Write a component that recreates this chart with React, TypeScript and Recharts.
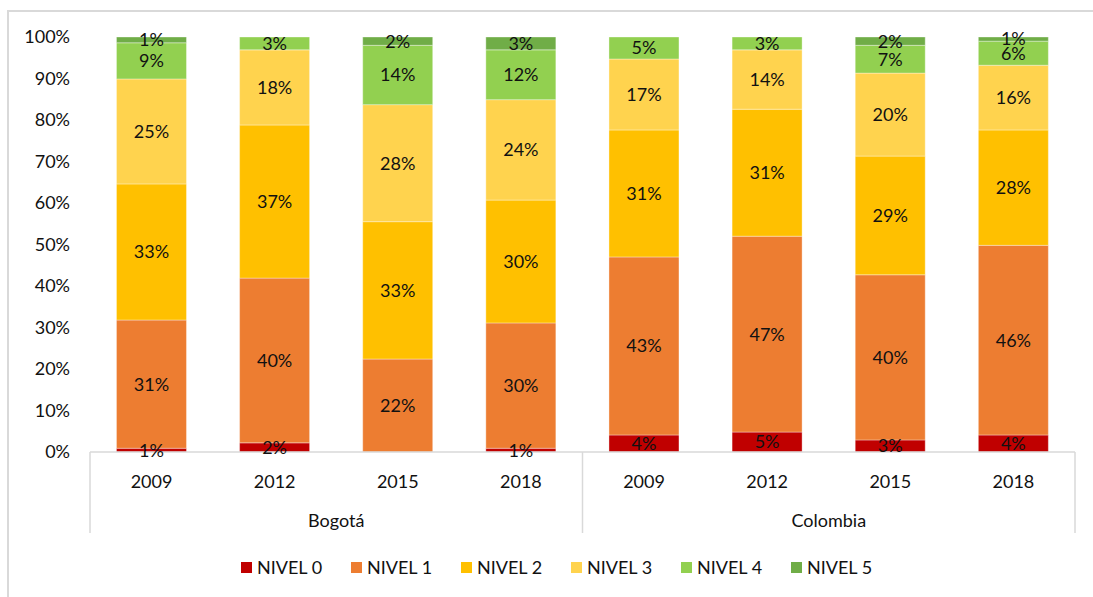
import React from 'react';
import { BarChart, Bar, XAxis, YAxis, Legend, LabelList } from 'recharts';

const years = ['2009', '2012', '2015', '2018', '2009', '2012', '2015', '2018'];
const groups = ['Bogotá', 'Bogotá', 'Bogotá', 'Bogotá', 'Colombia', 'Colombia', 'Colombia', 'Colombia'];

const nivel0 = [0.9, 2.2, 0, 0.9, 4.1, 4.8, 2.9, 4.1];
const nivel1 = [30.9, 39.7, 22.4, 30.2, 42.9, 47.2, 39.8, 45.7];
const nivel2 = [32.8, 36.9, 33.1, 29.6, 30.6, 30.6, 28.6, 27.8];
const nivel3 = [25.3, 18.1, 28.2, 24.2, 17.1, 14.3, 20.0, 15.6];
const nivel4 = [8.7, 3.1, 14.3, 12.0, 5.3, 3.1, 6.7, 5.8];
const nivel5 = [1.4, 0, 2.0, 3.1, 0, 0, 2.0, 1.0];

const yTicks = [0, 10, 20, 30, 40, 50, 60, 70, 80, 90, 100];

const series = [
  { key: 'n0', name: 'NIVEL 0', values: nivel0, color: '#C00000' },
  { key: 'n1', name: 'NIVEL 1', values: nivel1, color: '#ED7D31' },
  { key: 'n2', name: 'NIVEL 2', values: nivel2, color: '#FFC000' },
  { key: 'n3', name: 'NIVEL 3', values: nivel3, color: '#FFD34E' },
  { key: 'n4', name: 'NIVEL 4', values: nivel4, color: '#92D050' },
  { key: 'n5', name: 'NIVEL 5', values: nivel5, color: '#70AD47' },
];

const data = years.map((year, i) => {
  const row: Record<string, string | number> = { id: `${groups[i]}-${year}`, year, group: groups[i] };
  series.forEach((s) => {
    row[s.key] = s.values[i];
  });
  return row;
});

const FONT = 'Lato, "Open Sans", sans-serif';
const TEXT = '#111';
const LINE = '#d9d9d9';
const FS = 18;

const W = 1093;
const H = 597;
const M = { top: 37, right: 18, left: 10, bottom: 15 };
const Y_W = 80;
const BAND_HALF = (W - M.left - M.right - Y_W) / years.length / 2;

const YearTick = (props: any) => {
  const { x, y, index, payload } = props;
  const half = payload && payload.offset ? payload.offset : BAND_HALF;
  const label = years[index];
  return (
    <g>
      <text x={x} y={y + 29} textAnchor="middle" dominantBaseline="central" fontSize={FS} fill={TEXT} fontFamily={FONT}>
        {label}
      </text>
      {index % 4 === 0 && <line x1={x - half} x2={x - half} y1={y} y2={y + 81} stroke={LINE} strokeWidth={1.5} />}
      {index === years.length - 1 && <line x1={x + half} x2={x + half} y1={y} y2={y + 81} stroke={LINE} strokeWidth={1.5} />}
      {index % 4 === 1 && (
        <text x={x + half} y={y + 68} textAnchor="middle" dominantBaseline="central" fontSize={FS} fill={TEXT} fontFamily={FONT}>
          {groups[index]}
        </text>
      )}
    </g>
  );
};

const LegendContent = () => (
  <div style={{ display: 'flex', paddingLeft: 231, height: 30, alignItems: 'center', fontFamily: FONT, fontSize: FS, color: TEXT }}>
    {series.map((s) => (
      <div key={s.key} style={{ display: 'flex', alignItems: 'center', width: 110 }}>
        <span style={{ display: 'inline-block', width: 11, height: 11, background: s.color, marginRight: 5 }} />
        <span>{s.name}</span>
      </div>
    ))}
  </div>
);

const fmt = (v: any) => (v && v > 0 ? `${Math.round(v)}%` : '');

export default function App() {
  return (
    <div style={{ position: 'absolute', left: 0, top: 0, width: W, height: H, background: '#fff', overflow: 'hidden' }}>
      <div style={{ position: 'absolute', left: 7, top: 10, width: W, height: H, border: `2px solid ${LINE}`, boxSizing: 'border-box' }} />
      <div style={{ position: 'absolute', left: 0, top: 0 }}>
        <BarChart width={W} height={H} data={data} margin={M} barCategoryGap="21.5%">
          <XAxis
            dataKey="id"
            axisLine={{ stroke: LINE, strokeWidth: 1.5 }}
            tickLine={false}
            tickSize={0}
            tickMargin={0}
            interval={0}
            height={100}
            tick={<YearTick />}
          />
          <YAxis
            type="number"
            domain={[0, 100]}
            ticks={yTicks}
            width={Y_W}
            axisLine={false}
            tickLine={false}
            tickSize={6}
            tickMargin={14}
            tickFormatter={(v: number) => `${v}%`}
            tick={{ fontSize: FS, fill: TEXT, fontFamily: FONT }}
            interval={0}
          />
          <Legend verticalAlign="bottom" height={30} content={<LegendContent />} />
          {series.map((s) => (
            <Bar key={s.key} dataKey={s.key} name={s.name} stackId="a" fill={s.color} stroke="#ffffff" strokeOpacity={0.35} strokeWidth={1} isAnimationActive={false}>
              <LabelList dataKey={s.key} position="center" formatter={fmt} fill={TEXT} fontSize={FS} fontFamily={FONT} />
            </Bar>
          ))}
        </BarChart>
      </div>
    </div>
  );
}
